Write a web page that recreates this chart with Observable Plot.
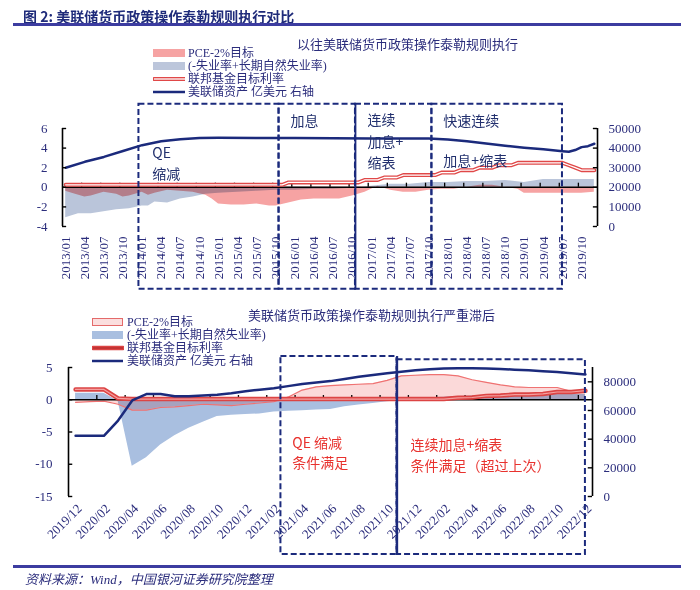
<!DOCTYPE html>
<html><head><meta charset="utf-8">
<script src="https://cdn.jsdelivr.net/npm/d3@7"></script>
<script src="https://cdn.jsdelivr.net/npm/@observablehq/plot@0.6"></script>
<style>
html,body{margin:0;padding:0;background:#fff;}
body{width:700px;height:590px;position:relative;overflow:hidden;font-family:"Liberation Serif","Noto Sans CJK SC",serif;color:#2b2d7c;}
.abs{position:absolute;white-space:nowrap;}
.hr{position:absolute;left:13px;width:668px;height:2.5px;background:#3c3ca0;}
.leg{position:absolute;height:12px;white-space:nowrap;color:#2b2d7c;}
.leg svg{position:absolute;left:0;top:1px;}
.leg .lt{position:absolute;left:35px;top:0;height:12px;line-height:12px;font-size:12px;overflow:visible;display:block;}
#top,#bot{position:absolute;left:0;}
</style></head><body>
<div class="abs" style="left:23px;top:6px;font-family:'Noto Sans CJK SC',sans-serif;font-weight:700;font-size:14px;color:#1f2b7a;">图 2: 美联储货币政策操作泰勒规则执行对比</div>
<div class="hr" style="top:23px"></div>
<div class="abs" style="left:297px;top:34px;font-size:13px;">以往美联储货币政策操作泰勒规则执行</div>
<div id="legTop"></div>
<div id="top" style="top:98px"></div>
<div class="abs" style="left:248px;top:305px;font-size:13px;">美联储货币政策操作泰勒规则执行严重滞后</div>
<div id="legBot"></div>
<div id="bot" style="top:345px"></div>
<div class="hr" style="top:565px"></div>
<div class="abs" style="left:25px;top:569px;font-size:13px;font-style:italic;">资料来源：Wind，中国银河证券研究院整理</div>
<script>
// ---------------- data ----------------
const legendLabels = ["PCE-2%目标", "(-失业率+长期自然失业率)", "联邦基金目标利率", "美联储资产 亿美元 右轴"];

const topTickLabels = ["2013/01","2013/04","2013/07","2013/10","2014/01","2014/04","2014/07","2014/10",
  "2015/01","2015/04","2015/07","2015/10","2016/01","2016/04","2016/07","2016/10",
  "2017/01","2017/04","2017/07","2017/10","2018/01","2018/04","2018/07","2018/10",
  "2019/01","2019/04","2019/07","2019/10"];
const topLeftTicks = [-4, -2, 0, 2, 4, 6];
const topRightTicks = [0, 10000, 20000, 30000, 40000, 50000];

const topPce = [["2013/01",-0.4],["2013/02",-0.6],["2013/04",-1.0],["2013/05",-0.9],["2013/07",-0.5],["2013/09",-0.7],
  ["2013/10",-1.0],["2013/11",-0.9],["2014/01",-0.5],["2014/02",-0.8],["2014/03",-0.6],["2014/05",-0.3],["2014/07",-0.4],
  ["2014/09",-0.5],["2014/11",-0.8],["2014/12",-1.2],["2015/01",-1.7],["2015/03",-1.8],["2015/05",-1.8],["2015/07",-1.7],
  ["2015/09",-1.9],["2015/10",-1.9],["2015/12",-1.6],["2016/02",-1.3],["2016/04",-1.2],["2016/06",-1.2],["2016/08",-1.2],
  ["2016/10",-0.9],["2016/12",-0.5],["2017/02",0.1],["2017/04",-0.3],["2017/06",-0.5],["2017/08",-0.5],["2017/10",-0.3],
  ["2017/12",-0.2],["2018/02",-0.2],["2018/04",0.0],["2018/06",0.2],["2018/08",0.2],["2018/10",0.0],["2018/12",-0.2],
  ["2019/01",-0.6],["2019/04",-0.6],["2019/07",-0.6],["2019/10",-0.6],["2019/12",-0.5]];
const topUnemp = [["2013/01",-3.1],["2013/03",-2.7],["2013/05",-2.7],["2013/07",-2.5],["2013/09",-2.3],["2013/11",-2.2],
  ["2014/01",-1.9],["2014/02",-1.9],["2014/03",-1.5],["2014/05",-1.6],["2014/07",-1.2],["2014/09",-1.0],["2014/11",-0.7],
  ["2015/01",-0.6],["2015/04",-0.5],["2015/07",-0.4],["2015/10",-0.3],["2016/01",-0.3],["2016/04",-0.2],["2016/07",-0.2],
  ["2016/10",-0.1],["2017/01",0.1],["2017/04",0.3],["2017/07",0.3],["2017/10",0.5],["2018/01",0.5],["2018/04",0.6],
  ["2018/07",0.6],["2018/10",0.7],["2019/01",0.5],["2019/04",0.8],["2019/07",0.8],["2019/10",0.8],["2019/12",0.8]];
const topFedFunds = [["2013/01",0.25],["2015/11",0.25],["2015/12",0.5],["2016/11",0.5],["2016/12",0.75],["2017/02",0.75],
  ["2017/03",1.0],["2017/05",1.0],["2017/06",1.25],["2017/11",1.25],["2017/12",1.5],["2018/02",1.5],["2018/03",1.75],
  ["2018/05",1.75],["2018/06",2.0],["2018/08",2.0],["2018/09",2.25],["2018/11",2.25],["2018/12",2.5],["2019/07",2.5],
  ["2019/08",2.25],["2019/09",2.0],["2019/10",1.75],["2019/12",1.75]];
const topAssets = [["2013/01",30000],["2013/04",33000],["2013/07",35500],["2013/10",38500],["2014/01",41500],["2014/04",43500],
  ["2014/07",44500],["2014/10",45200],["2015/01",45300],["2015/07",45200],["2016/01",45100],["2016/07",45000],["2017/01",44900],
  ["2017/07",44900],["2017/10",44900],["2018/01",44400],["2018/04",43500],["2018/07",42300],["2018/10",41200],["2019/01",40200],
  ["2019/04",39400],["2019/07",38400],["2019/08",38100],["2019/09",39000],["2019/10",40500],["2019/11",41000],["2019/12",42200]];
const topPhases = ["QE", "缩减", "加息", "连续", "加息+", "缩表", "快速连续", "加息+缩表"];

const botTickLabels = ["2019/12","2020/02","2020/04","2020/06","2020/08","2020/10","2020/12","2021/02","2021/04","2021/06",
  "2021/08","2021/10","2021/12","2022/02","2022/04","2022/06","2022/08","2022/10","2022/12"];
const botLeftTicks = [-15, -10, -5, 0, 5];
const botRightTicks = [0, 20000, 40000, 60000, 80000];
const botPce = [["2019/12",-0.4],["2020/01",-0.3],["2020/02",-0.2],["2020/03",-0.7],["2020/04",-1.6],["2020/05",-1.6],
  ["2020/06",-1.2],["2020/07",-1.1],["2020/08",-0.9],["2020/09",-0.7],["2020/10",-0.8],["2020/11",-0.9],["2020/12",-0.7],
  ["2021/01",-0.5],["2021/02",-0.3],["2021/03",0.4],["2021/04",1.5],["2021/05",2.0],["2021/06",2.2],["2021/07",2.3],
  ["2021/08",2.4],["2021/09",2.5],["2021/10",3.0],["2021/11",3.7],["2021/12",3.8],["2022/01",3.9],["2022/02",3.9],
  ["2022/03",3.7],["2022/04",3.1],["2022/05",2.7],["2022/06",2.3],["2022/07",2.0],["2022/08",1.9],["2022/09",1.9],
  ["2022/10",1.9],["2022/11",1.3],["2022/12",1.2]];
const botUnemp = [["2019/12",1.0],["2020/01",1.0],["2020/02",1.0],["2020/03",-0.2],["2020/04",-10.3],["2020/05",-9.0],
  ["2020/06",-7.0],["2020/07",-5.6],["2020/08",-4.4],["2020/09",-3.5],["2020/10",-2.6],["2020/11",-2.4],["2020/12",-2.3],
  ["2021/01",-2.2],["2021/02",-1.9],["2021/03",-1.8],["2021/04",-1.7],["2021/05",-1.6],["2021/06",-1.5],["2021/07",-1.1],
  ["2021/08",-0.8],["2021/09",-0.6],["2021/10",-0.3],["2021/11",-0.1],["2021/12",0.2],["2022/01",0.3],["2022/02",0.4],
  ["2022/03",0.5],["2022/04",0.6],["2022/05",0.6],["2022/06",0.6],["2022/07",0.7],["2022/08",0.7],["2022/09",0.8],
  ["2022/10",0.8],["2022/11",0.8],["2022/12",0.8]];
const botFedFunds = [["2019/12",1.6],["2020/01",1.6],["2020/02",1.6],["2020/03",0.2],["2020/04",0.1],["2022/02",0.1],
  ["2022/03",0.3],["2022/04",0.35],["2022/05",0.6],["2022/06",0.65],["2022/07",0.8],["2022/08",0.8],["2022/09",0.9],
  ["2022/10",1.2],["2022/11",1.2],["2022/12",1.4]];
const botAssets = [["2019/12",42300],["2020/01",42300],["2020/02",42300],["2020/03",53000],["2020/04",67000],["2020/05",71500],
  ["2020/06",71500],["2020/07",70000],["2020/08",70000],["2020/09",70500],["2020/10",71000],["2020/11",72000],["2020/12",73500],
  ["2021/01",74500],["2021/02",75500],["2021/03",77000],["2021/04",78500],["2021/05",79500],["2021/06",80500],["2021/07",82000],
  ["2021/08",83500],["2021/09",84800],["2021/10",86000],["2021/11",87000],["2021/12",88000],["2022/01",88800],["2022/02",89300],
  ["2022/03",89500],["2022/04",89500],["2022/05",89300],["2022/06",89000],["2022/07",88500],["2022/08",88000],["2022/09",87300],
  ["2022/10",86800],["2022/11",86000],["2022/12",85200]];
const botNotes = ["QE 缩减", "条件满足", "连续加息+缩表", "条件满足（超过上次）"];

// ---------------- helpers ----------------
const navy = "#1b2a7c", txt = "#2b2d7c", serif = "Liberation Serif, Noto Sans CJK SC, serif", sans = "Noto Sans CJK SC, sans-serif";
function monthIdx(s, y0, m0) { const [y, m] = s.split("/").map(Number); return (y - y0) * 12 + (m - m0); }
const ti = s => monthIdx(s, 2013, 1);
const bi = s => monthIdx(s, 2019, 12);
const topR = v => v / 5000 - 4;     // right axis -> left units
const botR = v => v / 4500 - 15;

// ---------------- legends ----------------
function legend(el, left, tops, syms) {
  el.innerHTML = legendLabels.map((t, i) =>
    `<div class="leg" style="left:${left}px;top:${tops[i] - 6}px">${syms[i]}<div class="lt">${t}</div></div>`).join("");
}
const S = inner => `<svg width="32" height="10" viewBox="0 0 32 10">${inner}</svg>`;
legend(document.getElementById("legTop"), 153, [53, 66, 79, 92], [
  S(`<rect x="0" y="1" width="32" height="8" fill="#f6a3a3"/>`),
  S(`<rect x="0" y="1" width="32" height="8" fill="#bcc6db"/>`),
  S(`<line x1="1" y1="5" x2="32" y2="5" stroke="#e04848" stroke-width="4" stroke-linecap="round"/><line x1="1" y1="5" x2="32" y2="5" stroke="#fff" stroke-width="1.3"/>`),
  S(`<line x1="0" y1="5" x2="32" y2="5" stroke="${navy}" stroke-width="2.5"/>`)
]);
legend(document.getElementById("legBot"), 92, [322, 335, 348, 361], [
  S(`<rect x="0.5" y="1.5" width="30" height="7" fill="#fbdede" stroke="#e46a6a" stroke-width="1"/>`),
  S(`<rect x="0" y="1" width="31" height="8" fill="#a9bfe0"/>`),
  S(`<line x1="1" y1="5" x2="31" y2="5" stroke="#dc4444" stroke-width="4.5" stroke-linecap="round"/><line x1="1" y1="5" x2="31" y2="5" stroke="#b22a2a" stroke-width="1.2"/>`),
  S(`<line x1="0" y1="5" x2="31" y2="5" stroke="${navy}" stroke-width="2.5"/>`)
]);

// ---------------- top chart ----------------
const topN = 84;
const topBounds = d3.range(2.5, topN - 3, 3);
const topPlot = Plot.plot({
  width: 700, height: 200,
  marginLeft: 62, marginRight: 103, marginTop: 30, marginBottom: 72,
  x: {type: "linear", domain: [-0.5, topN - 0.5], axis: null},
  y: {type: "linear", domain: [-4, 6], axis: null},
  style: {overflow: "visible", background: "transparent"},
  marks: [
    Plot.areaY(topUnemp, {x: d => ti(d[0]), y: d => d[1], fill: "#bac5da"}),
    Plot.areaY(topPce, {x: d => ti(d[0]), y: d => d[1], fill: "#f6a3a3", mixBlendMode: "multiply"}),
    Plot.ruleY([0], {stroke: "#000", strokeWidth: 1.6}),
    Plot.ruleX(topBounds, {x: d => d, y1: 0, y2: 0.42, stroke: "#000", strokeWidth: 1.3}),
    Plot.line(topFedFunds, {x: d => ti(d[0]), y: d => d[1], stroke: "#e04848", strokeWidth: 4}),
    Plot.line(topFedFunds, {x: d => ti(d[0]), y: d => d[1], stroke: "#fff", strokeWidth: 1.3}),
    Plot.line(topAssets, {x: d => ti(d[0]), y: d => topR(d[1]), stroke: navy, strokeWidth: 2.5}),
    // axes
    Plot.ruleX([-0.5], {y1: -4, y2: 6, stroke: "#000", strokeWidth: 1.6}),
    Plot.ruleX([topN - 0.5], {y1: -4, y2: 6, stroke: "#000", strokeWidth: 1.6}),
    Plot.ruleY(topLeftTicks, {y: d => d, x1: -0.5, x2: 0.15, stroke: "#000", strokeWidth: 1.4}),
    Plot.ruleY(topRightTicks, {y: d => topR(d), x1: topN - 1.15, x2: topN - 0.5, stroke: "#000", strokeWidth: 1.4}),
    Plot.text(topLeftTicks, {frameAnchor: "left", y: d => d, text: d => String(d), dx: -15, textAnchor: "end",
      fill: txt, fontSize: 13, fontFamily: serif}),
    Plot.text(topRightTicks, {frameAnchor: "right", y: d => topR(d), text: d => String(d), dx: 11, textAnchor: "start",
      fill: txt, fontSize: 13, fontFamily: serif}),
    Plot.text(topTickLabels, {x: d => ti(d), y: -4, dy: 10, text: d => d, rotate: -90, textAnchor: "end",
      fill: txt, fontSize: 13, fontFamily: serif}),
    // phase boxes
    Plot.rect([[11.5, 33.5], [33.5, 45.5], [45.5, 57.5], [57.5, 78]], {x1: d => d[0], x2: d => d[1], y1: -10.4, y2: 8.47,
      fill: "none", stroke: navy, strokeWidth: 2, strokeDasharray: "6,3"}),
    Plot.ruleX([45.5], {y1: -10.4, y2: 8.47, stroke: navy, strokeWidth: 1.8}),
    Plot.text(topPhases, {
      x: (d, i) => [13.6, 13.6, 35.3, 47.4, 47.4, 47.4, 59.3, 59.3][i],
      y: (d, i) => [3.45, 1.3, 6.73, 6.78, 4.55, 2.4, 6.73, 2.65][i],
      text: d => d, textAnchor: "start", fill: "#22306e", fontSize: 14, fontFamily: sans})
  ]
});
document.getElementById("top").appendChild(topPlot);

// ---------------- bottom chart ----------------
const botN = 37;
const botBounds = d3.range(1.5, botN - 1, 2);
const botPlot = Plot.plot({
  width: 700, height: 215,
  marginLeft: 68, marginRight: 108, marginTop: 22, marginBottom: 64,
  x: {type: "linear", domain: [-0.5, botN - 0.5], axis: null},
  y: {type: "linear", domain: [-15, 5], axis: null},
  style: {overflow: "visible", background: "transparent"},
  marks: [
    Plot.areaY(botUnemp, {x: d => bi(d[0]), y: d => d[1], fill: "#a9bfe0"}),
    Plot.areaY(botPce, {x: d => bi(d[0]), y: d => d[1], fill: "#fbd9d9", mixBlendMode: "multiply"}),
    Plot.line(botPce, {x: d => bi(d[0]), y: d => d[1], stroke: "#ef7272", strokeWidth: 1.2}),
    Plot.ruleY([0], {stroke: "#000", strokeWidth: 1.6}),
    Plot.ruleX(botBounds, {x: d => d, y1: 0, y2: 0.65, stroke: "#000", strokeWidth: 1.3}),
    Plot.line(botFedFunds, {x: d => bi(d[0]), y: d => d[1], stroke: "#dc4444", strokeWidth: 4.5}),
    Plot.line(botFedFunds, {x: d => bi(d[0]), y: d => d[1], stroke: "#f4a0a0", strokeWidth: 1.2}),
    Plot.line(botAssets, {x: d => bi(d[0]), y: d => botR(d[1]), stroke: navy, strokeWidth: 2.5}),
    // axes
    Plot.ruleX([-0.5], {y1: -15, y2: 5, stroke: "#000", strokeWidth: 1.6}),
    Plot.ruleX([botN - 0.5], {y1: -15, y2: botR(90000), stroke: "#000", strokeWidth: 1.6}),
    Plot.ruleY(botLeftTicks, {y: d => d, x1: -0.5, x2: -0.2, stroke: "#000", strokeWidth: 1.4}),
    Plot.ruleY(botRightTicks, {y: d => botR(d), x1: botN - 0.8, x2: botN - 0.5, stroke: "#000", strokeWidth: 1.4}),
    Plot.text(botLeftTicks, {frameAnchor: "left", y: d => d, text: d => String(d), dx: -16, textAnchor: "end",
      fill: txt, fontSize: 13, fontFamily: serif}),
    Plot.text(botRightTicks, {frameAnchor: "right", y: d => botR(d), text: d => String(d), dx: 11, textAnchor: "start",
      fill: txt, fontSize: 13, fontFamily: serif}),
    Plot.text(botTickLabels, {x: d => bi(d), y: -15, dx: 4, dy: 10, text: d => d, rotate: -45, textAnchor: "end",
      fill: txt, fontSize: 13, fontFamily: serif}),
    // condition boxes
    Plot.rect([[14.5, 22.7, 6.7], [22.7, 36, 6.2]], {x1: d => d[0], x2: d => d[1], y1: -24, y2: d => d[2],
      fill: "none", stroke: navy, strokeWidth: 2, strokeDasharray: "6,3"}),
    Plot.ruleX([22.7], {y1: -24, y2: 6.7, stroke: navy, strokeWidth: 2.2}),
    Plot.text(botNotes, {
      x: (d, i) => [15.3, 15.3, 23.65, 23.65][i],
      y: (d, i) => [-6.78, -9.88, -7.1, -10.35][i],
      text: d => d, textAnchor: "start", fill: "#e8322e", fontSize: 14, fontFamily: sans})
  ]
});
document.getElementById("bot").appendChild(botPlot);
</script>
</body></html>
